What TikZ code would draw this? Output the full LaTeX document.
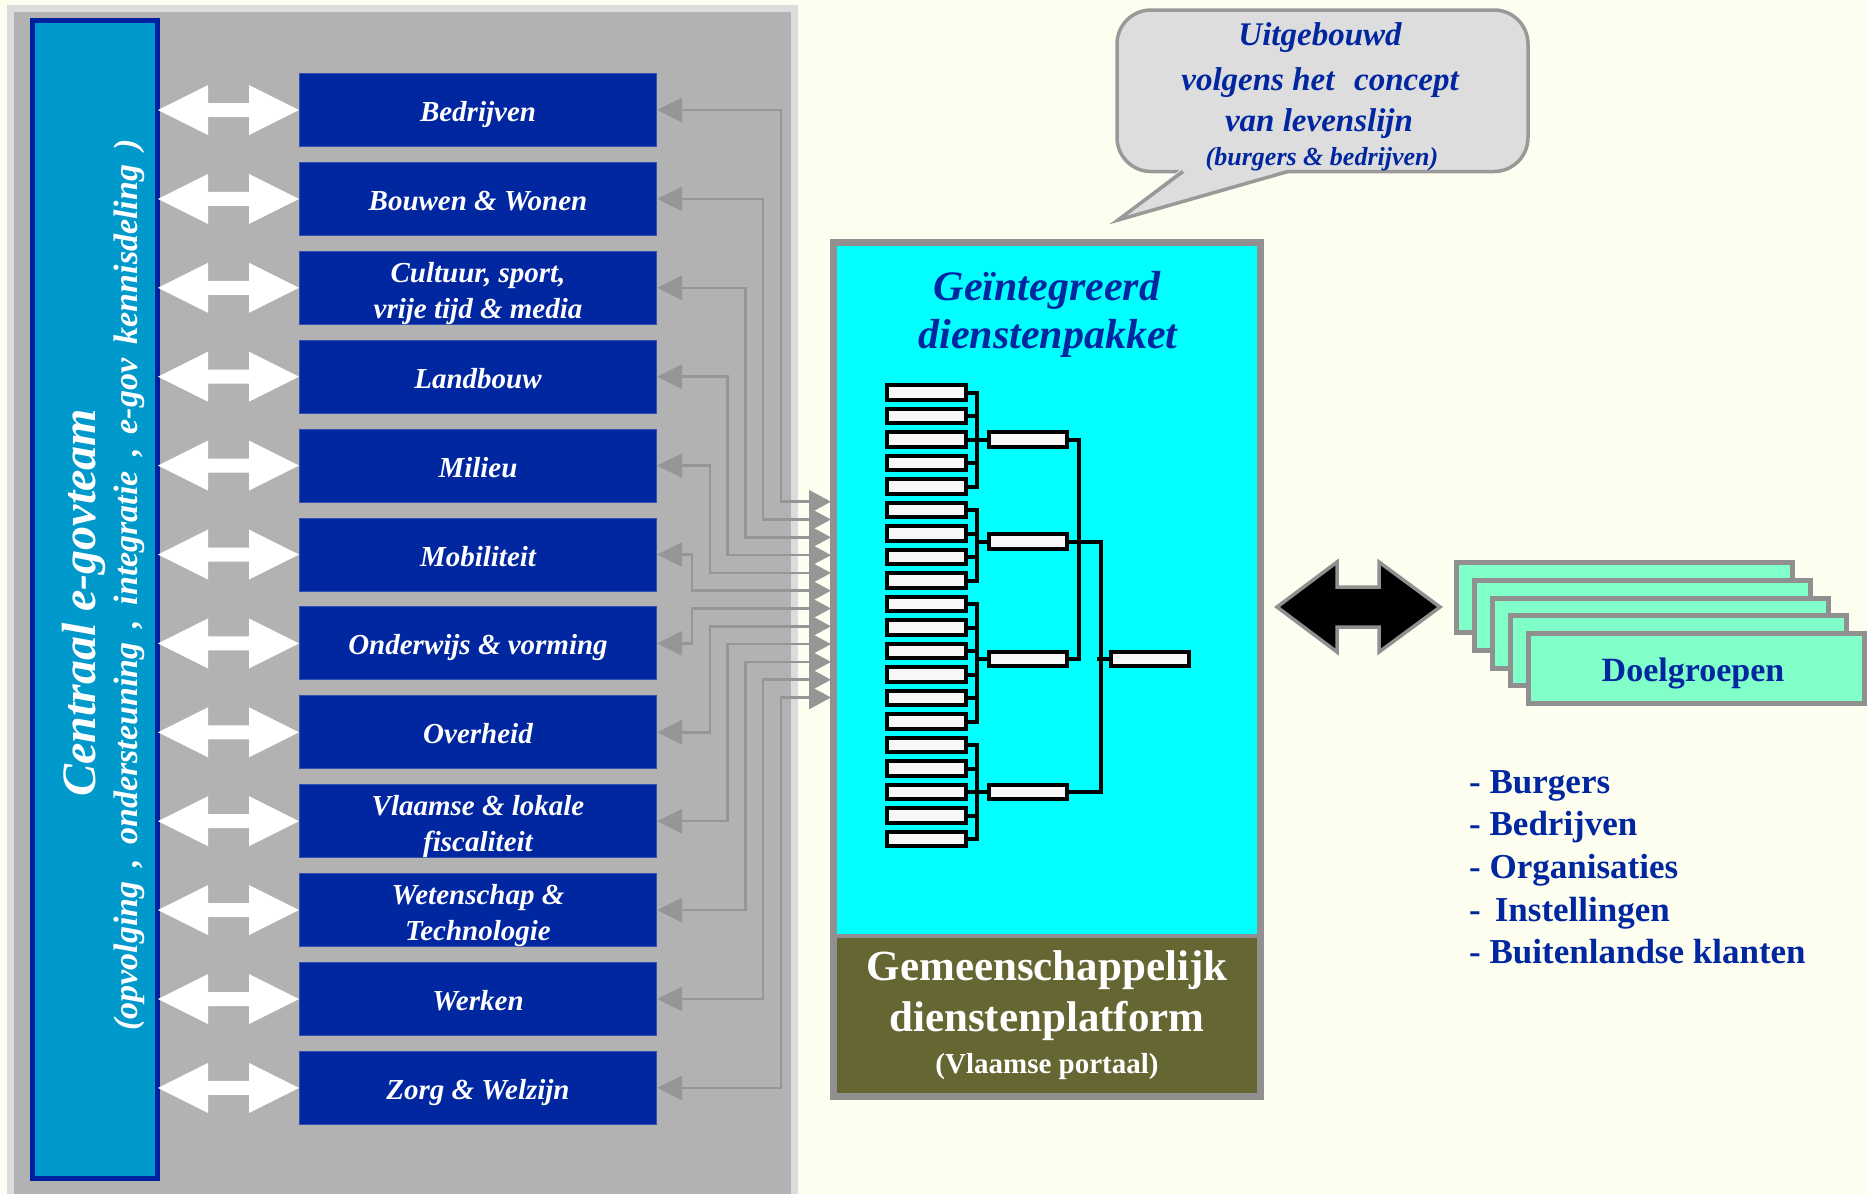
\documentclass[tikz,border=0pt]{standalone}
\usepackage{fontspec}
\setmainfont{Liberation Serif}
\usetikzlibrary{arrows.meta}

\definecolor{cream}{HTML}{FEFEF0}
\definecolor{panelrim}{HTML}{DCDCDC}
\definecolor{panelgray}{HTML}{B2B2B2}
\definecolor{teamfill}{HTML}{0099CC}
\definecolor{teamrim}{HTML}{0020A0}
\definecolor{navy}{HTML}{0026A0}
\definecolor{wire}{HTML}{969696}
\definecolor{rimgray}{HTML}{909090}
\definecolor{aqua}{HTML}{00FFFF}
\definecolor{olivebase}{HTML}{666633}
\definecolor{mint}{HTML}{80FFC8}
\definecolor{bubblefill}{HTML}{DDDDDD}
\definecolor{bubblerim}{HTML}{999999}

\newcommand\fsz[2]{\fontsize{#1}{#2}\selectfont}
\newcommand\widespaces{\spaceskip=0.42em\relax}

\begin{document}
\begin{tikzpicture}[x=1pt,y=-1pt,
  sectorbox/.style={rectangle, fill=navy, draw=navy!80!white, line width=1pt,
    minimum width=357pt, minimum height=73pt, inner sep=0pt},
  dlabel/.style={anchor=base, text=white, inner sep=0pt,
    font=\fsz{29}{35}\bfseries\itshape},
  feed/.style={draw=wire, line width=2.5pt,
    arrows={Triangle[length=25pt,width=24pt]-Triangle[length=22pt,width=23pt]}},
  twoway/.style={fill=white},
  leafbox/.style={draw=black, line width=4pt, fill=white!97!black,
    minimum width=79pt, minimum height=14.4pt, inner sep=0pt},
  jointbox/.style={leafbox, minimum width=78pt, minimum height=14.5pt},
  tline/.style={draw=black, line width=4pt},
  dgbox/.style={draw=rimgray, line width=5pt, fill=mint,
    minimum width=336pt, minimum height=70pt, inner sep=0pt},
  listitem/.style={anchor=base west, text=navy, inner sep=0pt,
    font=\fsz{35}{40}\bfseries},
  bubbletext/.style={anchor=base, text=navy, inner sep=0pt,
    font=\fsz{33}{40}\bfseries\itshape}
]
\useasboundingbox (0,0) rectangle (1867,1194);
\fill[cream] (0,0) rectangle (1867,1194);

% ---- grey frame holding the policy domains
\fill[panelrim] (7,5) rectangle (798,1194);
\fill[panelgray] (14,12) rectangle (791,1194);

% ---- central e-gov team bar
\node[draw=teamrim, line width=5pt, fill=teamfill, minimum width=125pt,
  minimum height=1158pt, inner sep=0pt] (team) at (95,599.5) {};
\node[rotate=90, anchor=base, text=white, inner sep=0pt,
  font=\fsz{48}{50}\bfseries\itshape] (teamname) at (95,603) {Centraal e-govteam};
\node[rotate=90, anchor=base, text=white, inner sep=0pt,
  font=\fsz{34}{36}\bfseries\itshape] (teamtask) at (137,585)
  {\widespaces(opvolging , ondersteuning , integratie , e-gov kennisdeling )};

% ---- policy domains
\foreach \i in {1,...,12}
  \node[sectorbox] (b\i) at (478,{110+88.9*(\i-1)}) {};

\node[dlabel] (lab1)  at ([yshift=-11.5pt]b1.center)  {Bedrijven};
\node[dlabel] (lab2)  at ([yshift=-11.5pt]b2.center)  {Bouwen \& Wonen};
\node[dlabel] (lab3a) at ([yshift=5.5pt]b3.center)    {Cultuur, sport,};
\node[dlabel] (lab3b) at ([yshift=-30.5pt]b3.center)  {vrije tijd \& media};
\node[dlabel] (lab4)  at ([yshift=-11.5pt]b4.center)  {Landbouw};
\node[dlabel] (lab5)  at ([yshift=-11.5pt]b5.center)  {Milieu};
\node[dlabel] (lab6)  at ([yshift=-11.5pt]b6.center)  {Mobiliteit};
\node[dlabel] (lab7)  at ([yshift=-11.5pt]b7.center)  {Onderwijs \& vorming};
\node[dlabel] (lab8)  at ([yshift=-11.5pt]b8.center)  {Overheid};
\node[dlabel] (lab9a) at ([yshift=5.5pt]b9.center)    {Vlaamse \& lokale};
\node[dlabel] (lab9b) at ([yshift=-30.5pt]b9.center)  {fiscaliteit};
\node[dlabel] (lab10a) at ([yshift=5.5pt]b10.center)  {Wetenschap \&};
\node[dlabel] (lab10b) at ([yshift=-30.5pt]b10.center) {Technologie};
\node[dlabel] (lab11) at ([yshift=-11.5pt]b11.center) {Werken};
\node[dlabel] (lab12) at ([yshift=-11.5pt]b12.center) {Zorg \& Welzijn};

% ---- white two-way arrows between the team bar and each domain
\foreach \i in {1,...,12}
  \fill[twoway] (b\i.west) -- ++(-50,-25) -- ++(0,18) -- ++(-41,0) -- ++(0,-18)
    -- ++(-50,25) -- ++(50,25) -- ++(0,-18) -- ++(41,0) -- ++(0,18) -- cycle;

% ---- integrated service package
\node[fill=rimgray, minimum width=434pt, minimum height=861pt, inner sep=0pt]
  (platform) at (1047,669.5) {};
\node[fill=aqua, minimum width=420pt, minimum height=688pt, inner sep=0pt]
  (pakket) at (1047,590) {};
\node[fill=olivebase, minimum width=420pt, minimum height=155pt, inner sep=0pt]
  (portaal) at (1047,1015.5) {};

\node[anchor=base, text=navy, inner sep=0pt, font=\fsz{42}{44}\bfseries\itshape]
  (pk1) at (1047,300) {Geïntegreerd};
\node[anchor=base, text=navy, inner sep=0pt, font=\fsz{42}{44}\bfseries\itshape]
  (pk2) at (1048,348) {dienstenpakket};

\node[anchor=base, text=white, inner sep=0pt, font=\fsz{43}{45}\bfseries]
  (pt1) at (1047,980) {Gemeenschappelijk};
\node[anchor=base, text=white, inner sep=0pt, font=\fsz{43}{45}\bfseries]
  (pt2) at (1047,1031.8) {dienstenplatform};
\node[anchor=base, text=white, inner sep=0pt, font=\fsz{29}{31}\bfseries]
  (pt3) at (1047,1073.5) {(Vlaamse portaal)};

% ---- grey feeds from the package back to every domain
\foreach \i in {1,...,12}
  \coordinate (in\i) at (831,{501.7+17.8*(\i-1)});
\foreach \i/\dx in {1/-50, 2/-67.8, 3/-85.6, 4/-103.4, 5/-121.2, 6/-139,
                    7/-139, 8/-121.2, 9/-103.4, 10/-85.6, 11/-67.8, 12/-50}
  \draw[feed] (b\i.east) -| ([xshift=\dx pt]in\i) -- (in\i);

% ---- service tree
\foreach \k in {0,...,19}
  \node[leafbox] (l\k) at (926.5,{392.5+23.5*\k}) {};
\node[jointbox] (m1) at (1027.5,439.5) {};
\node[jointbox] (m2) at (1027.5,541.5) {};
\node[jointbox] (m3) at (1027.5,659) {};
\node[jointbox] (m4) at (1027.5,792) {};
\node[jointbox] (crown) at (1150,659) {};

\draw[tline] (l0.east) -- ++(9,0) |- (l4.east);
\foreach \k in {1,2,3} \draw[tline] (l\k.east) -- ++(9,0);
\draw[tline] (l5.east) -- ++(9,0) |- (l8.east);
\foreach \k in {6,7} \draw[tline] (l\k.east) -- ++(9,0);
\draw[tline] (l9.east) -- ++(9,0) |- (l14.east);
\foreach \k in {10,...,13} \draw[tline] (l\k.east) -- ++(9,0);
\draw[tline] (l15.east) -- ++(9,0) |- (l19.east);
\foreach \k in {16,17,18} \draw[tline] (l\k.east) -- ++(9,0);
\foreach \k in {1,...,4} \draw[tline] (m\k.west) -- ++(-12,0);
\draw[tline] (m1.east) -- ++(10.5,0) |- (m3.east);
\draw[tline] (m2.east) -- ++(32.5,0) |- (m4.east);
\draw[tline] (crown.west) -- ++(-12,0);

% ---- target groups
\foreach \k in {1,...,5}
  \node[dgbox] (dg\k) at ({1624+18*(\k-1)},{597.5+17.8*(\k-1)}) {};
\node[anchor=base, text=navy, inner sep=0pt, font=\fsz{34}{36}\bfseries]
  (dgname) at (1693,681.7) {Doelgroepen};

\node[listitem] (li1) at (1469,793.3) {- Burgers};
\node[listitem] (li2) at (1469,835.9) {- Bedrijven};
\node[listitem] (li3) at (1469,878.5) {- Organisaties};
\node[listitem] (li4) at (1469,921.1) {-\hspace{0.4em}Instellingen};
\node[listitem] (li5) at (1469,963.7) {- Buitenlandse klanten};

% ---- black two-way arrow between package and target groups
\filldraw[fill=black, draw=rimgray, line width=3.5pt, line join=miter]
  (1277,607) -- (1337,562) -- (1337,587) -- (1379,587) -- (1379,562)
  -- (1440,607) -- (1379,652) -- (1379,627) -- (1337,627) -- (1337,652) -- cycle;

% ---- speech bubble
\draw[draw=bubblerim, fill=bubblefill, line width=3.5pt, rounded corners=34pt]
  (1117,10) rectangle (1528,171.5);
\fill[bubblefill] (1181,169) -- (1118,220) -- (1290,169) -- cycle;
\draw[draw=bubblerim, line width=3.5pt, line join=miter]
  (1183,171.5) -- (1118,220) -- (1288,171.5);
\node[bubbletext] (bt1) at (1320,45.7) {Uitgebouwd};
\node[bubbletext] (bt2) at (1320,90) {volgens het\hspace{0.35em} concept};
\node[bubbletext] (bt3) at (1319,131.7) {van levenslijn};
\node[bubbletext, font=\fsz{26}{30}\bfseries\itshape] (bt4) at (1322,165.5)
  {(burgers \& bedrijven)};
\end{tikzpicture}
\end{document}
